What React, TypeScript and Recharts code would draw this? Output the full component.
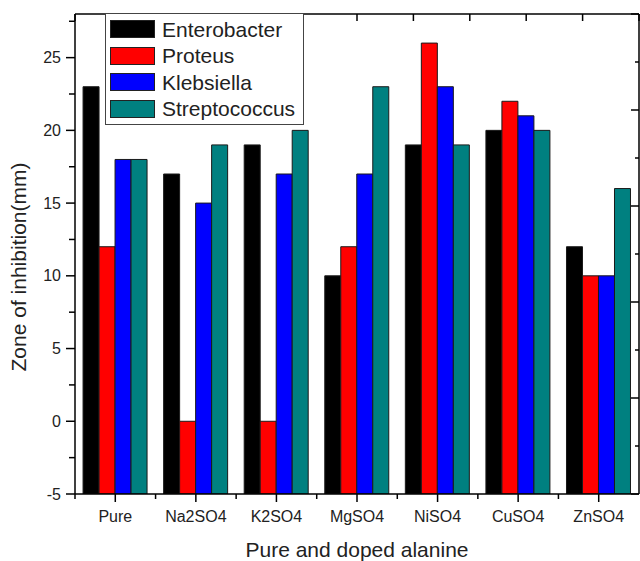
import { BarChart, Bar, XAxis, YAxis, Legend } from 'recharts';

// categories and values (zone of inhibition, mm)
const CATEGORIES = ['Pure', 'Na2SO4', 'K2SO4', 'MgSO4', 'NiSO4', 'CuSO4', 'ZnSO4'];
const ENTEROBACTER = [23, 17, 19, 10, 19, 20, 12];
const PROTEUS = [12, 0, 0, 12, 26, 22, 10];
const KLEBSIELLA = [18, 15, 17, 17, 23, 21, 10];
const STREPTOCOCCUS = [18, 19, 20, 23, 19, 20, 16];

const Y_MIN = -5;
const Y_MAX = 28;
const Y_TICKS = [-5, -2.5, 0, 2.5, 5, 7.5, 10, 12.5, 15, 17.5, 20, 22.5, 25, 27.5];
// the frame (top / right) carries its own unlabeled ticks, 10 equal steps
const FRAME_STEPS = [0, 1, 2, 3, 4, 5, 6, 7, 8, 9, 10];

const SERIES = [
  { key: 'enterobacter', name: 'Enterobacter', color: '#000000' },
  { key: 'proteus', name: 'Proteus', color: '#ff0000' },
  { key: 'klebsiella', name: 'Klebsiella', color: '#0000ff' },
  { key: 'streptococcus', name: 'Streptococcus', color: '#008080' },
];

const data = CATEGORIES.map((name, i) => ({
  name,
  enterobacter: ENTEROBACTER[i],
  proteus: PROTEUS[i],
  klebsiella: KLEBSIELLA[i],
  streptococcus: STREPTOCOCCUS[i],
}));

const W = 640;
const H = 561;
const Y_AXIS_W = 75;
const MARGIN = { top: 14, right: 1, bottom: 0, left: 0 };
const N = CATEGORIES.length;
const PLOT_W = W - Y_AXIS_W - MARGIN.left - MARGIN.right;
const BAND = PLOT_W / N;
const FONT = '"Liberation Sans", Arial, sans-serif';
const AXIS = { stroke: '#000', strokeWidth: 1.5 };

// top and right border of the box, drawn once from the first bottom tick
function Frame({ left, bottom }: { left: number; bottom: number }) {
  const top = MARGIN.top;
  const right = left + PLOT_W;
  const h = bottom - top;
  return (
    <g>
      <line x1={left} x2={right} y1={top} y2={top} {...AXIS} />
      <line x1={right} x2={right} y1={top} y2={bottom} {...AXIS} />
      {FRAME_STEPS.map((k) => (
        <line key={`t${k}`} x1={left + (k * PLOT_W) / 10} x2={left + (k * PLOT_W) / 10} y1={top} y2={top + 7} {...AXIS} />
      ))}
      {FRAME_STEPS.map((k) => (
        <line key={`r${k}`} x1={right} x2={right - (k % 2 ? 4 : 8)} y1={bottom - (k * h) / 10} y2={bottom - (k * h) / 10} {...AXIS} />
      ))}
    </g>
  );
}

function YTick({ x, y, payload }: any) {
  const major = payload.value % 5 === 0;
  return (
    <g>
      <line x1={x} x2={x - (major ? 9 : 6)} y1={y} y2={y} {...AXIS} />
      {major && (
        <text x={x - 14} y={y} dy={5.5} textAnchor="end" fontSize={16} fontFamily={FONT} fill="#222">
          {payload.value}
        </text>
      )}
    </g>
  );
}

function XTick({ x, y, payload, index }: any) {
  const half = BAND / 2;
  return (
    <g>
      {index === 0 && <Frame left={x - half} bottom={y} />}
      <line x1={x} x2={x} y1={y} y2={y + 8} {...AXIS} />
      <line x1={x - half} x2={x - half} y1={y} y2={y + 5} {...AXIS} />
      <text x={x} y={y + 28} textAnchor="middle" fontSize={16} fontFamily={FONT} fill="#222">
        {payload.value}
      </text>
    </g>
  );
}

function YTitle({ viewBox }: any) {
  const cx = viewBox.x + 26;
  const cy = viewBox.y + viewBox.height / 2 + 13;
  return (
    <text x={cx} y={cy} transform={`rotate(-90, ${cx}, ${cy})`} textAnchor="middle" fontSize={21} fontFamily={FONT} fill="#222">
      Zone of inhibition(mm)
    </text>
  );
}

function LegendBox() {
  return (
    <div
      style={{
        border: '1px solid #444',
        background: '#fff',
        padding: '2px 8px 2px 4px',
        fontFamily: FONT,
        fontSize: 21,
        color: '#222',
      }}
    >
      {SERIES.map((s) => (
        <div key={s.key} style={{ display: 'flex', alignItems: 'center', height: 26.5 }}>
          <span
            style={{
              display: 'inline-block',
              width: 45,
              height: 18,
              background: s.color,
              border: '1px solid #222',
              boxSizing: 'border-box',
            }}
          />
          <span style={{ marginLeft: 7, lineHeight: 1 }}>{s.name}</span>
        </div>
      ))}
    </div>
  );
}

export default function App() {
  return (
    <div style={{ position: 'absolute', left: 0, top: 0, width: W, height: H, background: '#fff' }}>
      <BarChart width={W} height={H} data={data} margin={MARGIN} barCategoryGap="10%" barGap={0}>
        <XAxis
          dataKey="name"
          height={67}
          interval={0}
          tickSize={0}
          tickMargin={0}
          tickLine={false}
          tick={<XTick />}
          axisLine={AXIS}
          label={{ value: 'Pure and doped alanine', position: 'insideBottom', offset: 4, fontSize: 21, fontFamily: FONT, fill: '#222' }}
        />
        <YAxis
          width={Y_AXIS_W}
          type="number"
          domain={[Y_MIN, Y_MAX]}
          ticks={Y_TICKS}
          interval={0}
          allowDataOverflow
          tickSize={0}
          tickMargin={0}
          tickLine={false}
          tick={<YTick />}
          axisLine={AXIS}
          label={<YTitle />}
        />
        <Legend
          layout="vertical"
          align="center"
          verticalAlign="middle"
          content={<LegendBox />}
          wrapperStyle={{ top: 13, left: 105, width: 'auto' }}
        />
        {SERIES.map((s) => (
          <Bar
            key={s.key}
            name={s.name}
            dataKey={(d: any) => [Y_MIN, d[s.key]]}
            fill={s.color}
            stroke="#1a1a1a"
            strokeWidth={1}
            isAnimationActive={false}
          />
        ))}
      </BarChart>
    </div>
  );
}
